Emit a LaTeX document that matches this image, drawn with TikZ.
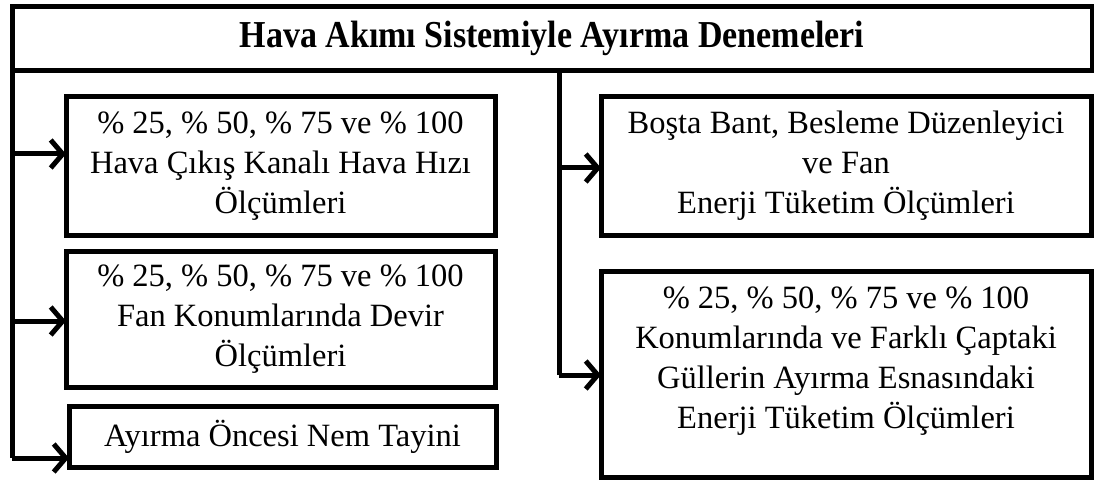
\documentclass[tikz,border=0pt]{standalone}
\usepackage{fontspec}
\setmainfont{Liberation Serif}
\usepackage{tikz}
\usetikzlibrary{arrows.meta,positioning}

\tikzset{
  kutu/.style={draw=black, line width=5pt, fill=white, align=center, inner sep=0pt, outer sep=0pt,
    font=\fontsize{32.5}{40}\selectfont},
  ok/.style={line width=5pt, -{Straight Barb[length=12pt,width=28pt,line width=5pt]}},
  hat/.style={line width=5pt}
}

\begin{document}
\begin{tikzpicture}[x=1pt, y=-1pt]
	\useasboundingbox (0,0) rectangle (1094,481);

	% baslik
	\node[kutu, minimum width=1080pt, minimum height=64.5pt, font=\fontsize{34}{40}\selectfont\bfseries]
		(baslik) at (552,38.75) {\scalebox{1}[1.12]{Hava Akımı Sistemiyle Ayırma Denemeleri}};

	% sol sutun
	\node[kutu, minimum width=429pt, minimum height=138pt] (hiz) at (280.5,166)
		{\% 25, \% 50, \% 75 ve \% 100\\Hava Çıkış Kanalı Hava Hızı\\Ölçümleri};
	\node[kutu, minimum width=429pt, minimum height=136pt] (devir) at (280.5,319)
		{\% 25, \% 50, \% 75 ve \% 100\\Fan Konumlarında Devir\\Ölçümleri};
	\node[kutu, minimum width=427pt, minimum height=61pt] (nem) at (282.5,436.5)
		{Ayırma Öncesi Nem Tayini};

	% sag sutun
	\node[kutu, minimum width=490pt, minimum height=138pt] (bosta) at (846,166)
		{Boşta Bant, Besleme Düzenleyici\\ve Fan\\Enerji Tüketim Ölçümleri};
	\node[kutu, minimum width=490pt, minimum height=206pt, text depth=32pt] (enerji) at (846,374)
		{\% 25, \% 50, \% 75 ve \% 100\\Konumlarında ve Farklı Çaptaki\\Güllerin Ayırma Esnasındaki\\Enerji Tüketim Ölçümleri};

	% baglantilar
	\coordinate (s1) at (12,154);
	\coordinate (s2) at (12,321);
	\coordinate (s3) at (12,458);
	\coordinate (r0) at (559,71);
	\coordinate (r1) at (559,168);
	\coordinate (r2) at (559,375);

	\draw[hat] (baslik.south west) -- (s3);
	\draw[hat] (r0) -- (r2);
	\draw[ok] (s1) -- (s1 -| hiz.west);
	\draw[ok] (s2) -- (s2 -| devir.west);
	\draw[ok] (s3) -- (s3 -| nem.west);
	\draw[ok] (r1) -- (r1 -| bosta.west);
	\draw[ok] (r2) -- (r2 -| enerji.west);
\end{tikzpicture}
\end{document}
